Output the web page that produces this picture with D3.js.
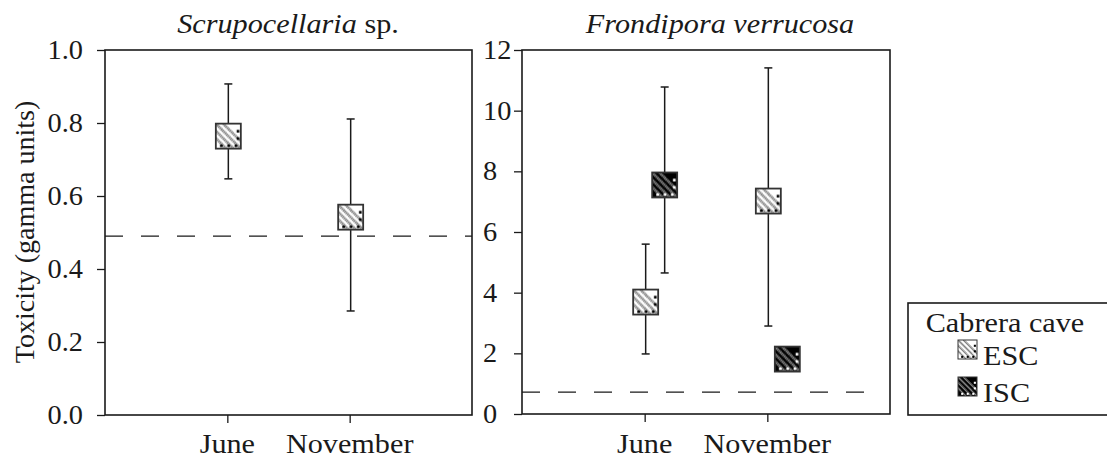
<!DOCTYPE html>
<html>
<head>
<meta charset="utf-8">
<script src="https://cdn.jsdelivr.net/npm/d3@7"></script>
<style>
  html, body { margin: 0; padding: 0; background: #fff; }
  svg { display: block; }
  text { font-family: 'Liberation Serif', 'Times New Roman', serif; fill: #1a1a1a; }
</style>
</head>
<body>
<svg id="chart" width="1107" height="458"></svg>
<script>
// ---- data ----
const months = ["June", "November"];
const sites = ["ESC", "ISC"];

// Scrupocellaria sp. (ESC only)
const scrupEscMean = [0.764, 0.542];
const scrupEscLow  = [0.647, 0.285];
const scrupEscHigh = [0.907, 0.811];
const scrupThreshold = 0.49;
const scrupTicks = [0, 0.2, 0.4, 0.6, 0.8, 1.0];

// Frondipora verrucosa
const frondEscMean = [3.69, 7.02];
const frondEscLow  = [1.98, 2.90];
const frondEscHigh = [5.60, 11.41];
const frondIscMean = [7.55, 1.81];
const frondIscLow  = [4.65, 1.81];
const frondIscHigh = [10.78, 1.81];
const frondThreshold = 0.72;
const frondTicks = [0, 2, 4, 6, 8, 10, 12];

const yTitle = "Toxicity (gamma units)";
const legendTitle = "Cabrera cave";

// ---- helpers ----
const svg = d3.select("#chart");
const ink = "#1a1a1a";
const SX = 1.12;           // horizontal text stretch
const FS = 27;

function rows(mean, low, high, site) {
  return months.map((m, i) => ({ month: m, site, mean: mean[i], low: low[i], high: high[i] }));
}

// box fill patterns
const defs = svg.append("defs");
function makePattern(id, bg, stripe, dot) {
  const p = defs.append("pattern")
    .attr("id", id)
    .attr("patternUnits", "objectBoundingBox")
    .attr("patternContentUnits", "objectBoundingBox")
    .attr("width", 1).attr("height", 1);
  const g = p.append("g").attr("transform", "scale(" + (1 / 24) + ")");
  g.append("rect").attr("width", 24).attr("height", 24).attr("fill", bg);
  [-14, -7, 0, 7].forEach(o => {
    g.append("line")
      .attr("x1", o).attr("y1", 0).attr("x2", o + 24).attr("y2", 24)
      .attr("stroke", stripe).attr("stroke-width", 2.6)
      .attr("stroke-dasharray", "1.2 0.6");
  });
  [[4, 20], [11, 20], [18, 20], [20, 6], [20, 13]].forEach(([x, y]) => {
    g.append("rect").attr("x", x).attr("y", y).attr("width", 2.6).attr("height", 2.6).attr("fill", dot);
  });
}
makePattern("pat-ESC", "#ffffff", "#6e6e6e", "#000");
makePattern("pat-ISC", "#000000", "#9a9a9a", "#fff");

function sText(parent, x, y, anchor, size, sx) {
  return parent.append("text")
    .attr("transform", `translate(${x},${y}) scale(${sx},1)`)
    .attr("text-anchor", anchor)
    .attr("font-size", size);
}

// ---- panel ----
function panel(opts) {
  const { left, right, top, bottom, domain, ticks, fmt, data, threshold, dashEnd, labelMode, titleX, titleItalic, titleRest } = opts;
  const g = svg.append("g");
  const x = d3.scalePoint().domain(months).range([left, right]).padding(1);
  const dodge = d3.scalePoint().domain(sites).range([1, 20]);
  const y = d3.scaleLinear().domain(domain).range([bottom, top]);

  // y axis ticks
  const ax = g.append("g").attr("transform", `translate(${left},0)`)
    .call(d3.axisLeft(y).tickValues(ticks).tickSize(8).tickFormat(() => ""));
  ax.select(".domain").remove();
  ax.selectAll("line").attr("stroke", ink).attr("stroke-width", 1.3);
  ticks.forEach(t => {
    if (labelMode === "end") {
      sText(g, left - 22, y(t) + 9, "end", FS, 1.05).text(fmt(t));
    } else {
      sText(g, left - 39, y(t) + 9, "start", FS, 1.05).text(fmt(t));
    }
  });

  // x axis ticks
  const bx = g.append("g").attr("transform", `translate(0,${bottom})`)
    .call(d3.axisBottom(x).tickSize(8).tickFormat(() => ""));
  bx.select(".domain").remove();
  bx.selectAll("line").attr("stroke", ink).attr("stroke-width", 1.3);
  months.forEach(m => sText(g, x(m), 453, "middle", FS, SX).text(m));

  // frame
  g.append("rect")
    .attr("x", left).attr("y", top)
    .attr("width", right - left).attr("height", bottom - top)
    .attr("fill", "none").attr("stroke", ink).attr("stroke-width", 1.6);

  // threshold
  g.append("line")
    .attr("x1", left).attr("x2", dashEnd)
    .attr("y1", y(threshold)).attr("y2", y(threshold))
    .attr("stroke", ink).attr("stroke-width", 1.4)
    .attr("stroke-dasharray", "18 18");

  // whiskers
  const cx = d => x(d.month) + dodge(d.site);
  const w = g.append("g").selectAll("g").data(data).join("g");
  w.append("line").attr("x1", cx).attr("x2", cx)
    .attr("y1", d => y(d.high)).attr("y2", d => y(d.low))
    .attr("stroke", ink).attr("stroke-width", 1.5);
  w.append("line").attr("x1", d => cx(d) - 4).attr("x2", d => cx(d) + 4)
    .attr("y1", d => y(d.high)).attr("y2", d => y(d.high))
    .attr("stroke", ink).attr("stroke-width", 1.5);
  w.append("line").attr("x1", d => cx(d) - 4).attr("x2", d => cx(d) + 4)
    .attr("y1", d => y(d.low)).attr("y2", d => y(d.low))
    .attr("stroke", ink).attr("stroke-width", 1.5);

  // mean boxes
  const B = 25;
  g.append("g").selectAll("rect").data(data).join("rect")
    .attr("x", d => cx(d) - B / 2).attr("y", d => y(d.mean) - B / 2)
    .attr("width", B).attr("height", B)
    .attr("fill", d => `url(#pat-${d.site})`)
    .attr("stroke", "#333").attr("stroke-width", 1.8);

  // title
  const t = sText(g, titleX, 33, "middle", FS, SX);
  t.append("tspan").attr("font-style", "italic").text(titleItalic);
  if (titleRest) t.append("tspan").text(titleRest);
}

panel({
  left: 105, right: 472, top: 50, bottom: 415,
  domain: [0, 1], ticks: scrupTicks, fmt: d3.format(".1f"),
  data: rows(scrupEscMean, scrupEscLow, scrupEscHigh, "ESC"),
  threshold: scrupThreshold, dashEnd: 472, labelMode: "end",
  titleX: 288, titleItalic: "Scrupocellaria", titleRest: " sp."
});

panel({
  left: 522, right: 890, top: 50, bottom: 414,
  domain: [0, 12], ticks: frondTicks, fmt: d3.format("d"),
  data: rows(frondEscMean, frondEscLow, frondEscHigh, "ESC")
    .concat(rows(frondIscMean, frondIscLow, frondIscHigh, "ISC")),
  threshold: frondThreshold, dashEnd: 876, labelMode: "start",
  titleX: 720, titleItalic: "Frondipora verrucosa", titleRest: ""
});

// y title
svg.append("text")
  .attr("transform", "translate(34,232) rotate(-90)")
  .attr("text-anchor", "middle")
  .attr("font-size", 28)
  .text(yTitle);

// legend
const lg = svg.append("g");
lg.append("rect").attr("x", 908).attr("y", 303).attr("width", 220).attr("height", 112)
  .attr("fill", "#fff").attr("stroke", ink).attr("stroke-width", 1.6);
sText(lg, 1005, 332, "middle", FS, SX).text(legendTitle);
sites.forEach((s, i) => {
  const yy = 340 + i * 37;
  lg.append("rect").attr("x", 958).attr("y", yy).attr("width", 19).attr("height", 19)
    .attr("fill", `url(#pat-${s})`).attr("stroke", "#333").attr("stroke-width", 1);
  sText(lg, 983, yy + 25, "start", FS, SX).text(s);
});
</script>
</body>
</html>
